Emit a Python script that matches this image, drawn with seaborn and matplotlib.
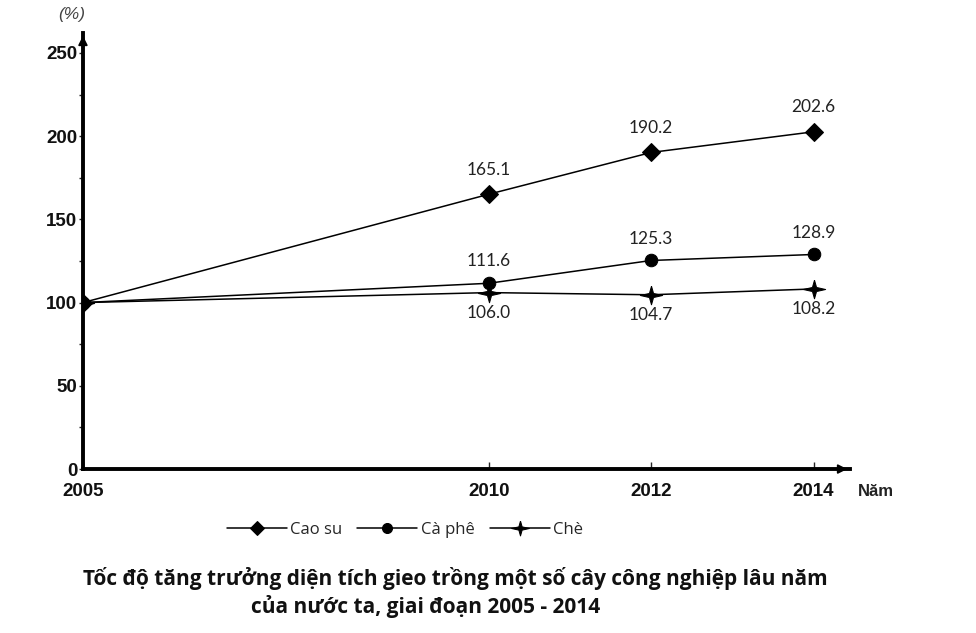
import pandas as pd
import matplotlib
matplotlib.use("Agg")
import matplotlib.pyplot as plt
import seaborn as sns

sns.set_theme(style="white")
plt.rcParams['font.family'] = ['Open Sans', 'DejaVu Sans']

# data
years = [2005, 2010, 2012, 2014]
cao_su = [100, 165.1, 190.2, 202.6]
ca_phe = [100, 111.6, 125.3, 128.9]
che = [100, 106.0, 104.7, 108.2]
series_names = ['Cao su', 'Cà phê', 'Chè']
y_ticks = [0, 50, 100, 150, 200, 250]

df = pd.DataFrame({'year': years * 3,
                   'value': cao_su + ca_phe + che,
                   'crop': [n for n in series_names for _ in years]})

star = [(0, 1), (0.22, 0.22), (1.2, 0), (0.22, -0.22), (0, -1),
        (-0.22, -0.22), (-1.2, 0), (-0.22, 0.22), (0, 1)]
markers = {'Cao su': 'D', 'Cà phê': 'o', 'Chè': star}
msizes = {'Cao su': 9, 'Cà phê': 9, 'Chè': 16}

fig = plt.figure(figsize=(9.76, 6.33), dpi=100)
ax = fig.add_axes([0.085, 0.259, 0.786, 0.689])

for name in series_names:
    sub = df[df.crop == name]
    sns.lineplot(data=sub, x='year', y='value', ax=ax, color='black',
                 linewidth=1.1, marker=markers[name], markersize=msizes[name],
                 markeredgecolor='black', label=name)

# data labels
num_font = dict(family=['Lato', 'DejaVu Sans'], fontsize=12.5, color='#222222')
for x, v in zip(years[1:], cao_su[1:]):
    ax.annotate(f"{v:.1f}", (x, v), xytext=(0, 12), textcoords='offset points',
                ha='center', va='bottom', **num_font)
for x, v in zip(years[1:], ca_phe[1:]):
    ax.annotate(f"{v:.1f}", (x, v), xytext=(0, 10), textcoords='offset points',
                ha='center', va='bottom', **num_font)
for x, v in zip(years[1:], che[1:]):
    ax.annotate(f"{v:.1f}", (x, v), xytext=(0, -9), textcoords='offset points',
                ha='center', va='top', **num_font)

ax.set_xlim(2005, 2014.45)
ax.set_ylim(0, 262)
ax.set_xticks(years)
ax.set_yticks(y_ticks)
ax.set_yticks(range(25, 250, 50), minor=True)
ax.set_xlabel('')
ax.set_ylabel('')
for s in ['top', 'right']:
    ax.spines[s].set_visible(False)
for s in ['left', 'bottom']:
    ax.spines[s].set_linewidth(2.8)
    ax.spines[s].set_color('black')
ax.tick_params(axis='y', which='both', direction='out', length=3, width=1,
               left=True, pad=1)
ax.tick_params(axis='x', direction='in', length=5, width=1, bottom=True, pad=10)
for lab in ax.get_xticklabels() + ax.get_yticklabels():
    lab.set_family(['Liberation Sans', 'DejaVu Sans'])
    lab.set_fontweight('bold')
    lab.set_fontsize(13.5)
    lab.set_color('#111111')

# axis arrows
ax.annotate('', xy=(1.0, 0), xytext=(0.96, 0), xycoords='axes fraction',
            arrowprops=dict(arrowstyle='-|>', color='black', lw=1.2,
                            mutation_scale=14))
ax.annotate('', xy=(0, 1.0), xytext=(0, 0.95), xycoords='axes fraction',
            arrowprops=dict(arrowstyle='-|>', color='black', lw=1.2,
                            mutation_scale=14))

fig.text(858 / 976, 1 - 492 / 633, 'Năm', ha='left', va='center',
         fontsize=12, fontweight='bold', family=['Liberation Sans', 'DejaVu Sans'],
         color='#222222')
fig.text(58 / 976, 1 - 15 / 633, '(%)', ha='left', va='center',
         fontsize=12.5, style='italic', color='#444444',
         family=['Liberation Sans', 'DejaVu Sans'])

leg = ax.legend(loc='center left', bbox_to_anchor=(212 / 976, 1 - 530 / 633),
                bbox_transform=fig.transFigure, ncol=3, frameon=False,
                fontsize=12, handlelength=3.6, columnspacing=0.9,
                handletextpad=0.2)
for h in leg.legend_handles:
    h.set_markersize(h.get_markersize() * 0.8)

fig.text(455 / 976, 1 - 578 / 633,
         'Tốc độ tăng trưởng diện tích gieo trồng một số cây công nghiệp lâu năm',
         ha='center', va='center', fontsize=15, fontweight='bold', color='#111111')
fig.text(426 / 976, 1 - 606 / 633, 'của nước ta, giai đoạn 2005 - 2014',
         ha='center', va='center', fontsize=15, fontweight='bold', color='#111111')

fig.savefig('out.png', dpi=100, facecolor='white')
